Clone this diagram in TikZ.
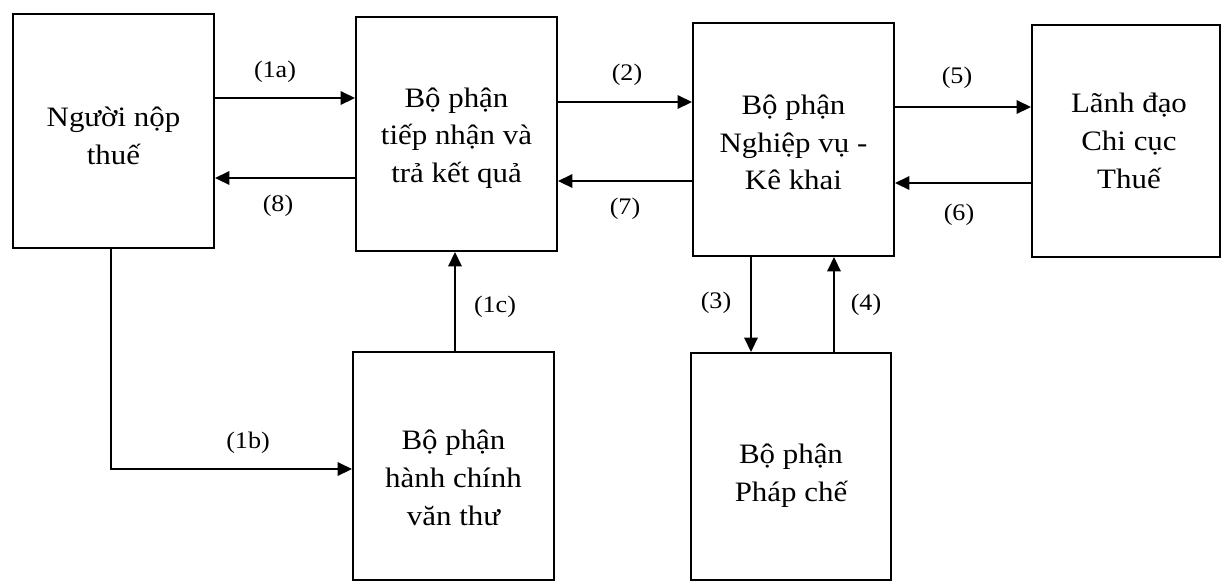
\documentclass[tikz,border=0pt]{standalone}
\usepackage{fontspec}
\setmainfont{Liberation Serif}[FakeStretch=1.1]
\usetikzlibrary{arrows.meta}
\begin{document}
\begin{tikzpicture}[x=0.02cm,y=-0.02cm,
  box/.style={draw,line width=1.15pt,inner sep=0pt},
  txt/.style={inner sep=0pt,align=center,font=\fontsize{16}{21.5}\selectfont},
  arr/.style={line width=1.15pt,-{Triangle[length=0.29cm,width=0.27cm]}},
  lbl/.style={inner sep=1pt,font=\fontsize{13.5}{15}\selectfont}]
\useasboundingbox (0,0) rectangle (1225,583);

% department frames
\node[box,minimum width=4.02cm,minimum height=4.68cm] (p1) at (113.5,131) {};
\node[box,minimum width=4.02cm,minimum height=4.68cm] (p2) at (456.5,134) {};
\node[box,minimum width=4.02cm,minimum height=4.66cm] (p3) at (793.5,139.5) {};
\node[box,minimum width=3.76cm,minimum height=4.64cm] (p4) at (1126,141) {};
\node[box,minimum width=4.02cm,minimum height=4.56cm] (p5) at (453.5,466) {};
\node[box,minimum width=4.00cm,minimum height=4.54cm] (p6) at (791,466.5) {};

% department names
\node[txt,yshift=-0.10cm] (t1) at (p1) {Người nộp\\thuế};
\node[txt,yshift=-0.08cm] (t2) at (p2) {Bộ phận\\tiếp nhận và\\trả kết quả};
\node[txt,yshift=-0.06cm] (t3) at (p3) {Bộ phận\\Nghiệp vụ -\\Kê khai};
\node[txt,xshift=0.06cm] (t4) at (p4) {Lãnh đạo\\Chi cục\\Thuế};
\node[txt,yshift=-0.24cm] (t5) at (p5) {Bộ phận\\hành chính\\văn thư};
\node[txt,yshift=-0.18cm] (t6) at (p6) {Bộ phận\\Pháp chế};

% flows between departments
\draw[arr] (p1.east |- 0,98) -- (p2.west |- 0,98);
\draw[arr] (p2.west |- 0,178) -- (p1.east |- 0,178);
\draw[arr] (p2.east |- 0,102) -- (p3.west |- 0,102);
\draw[arr] (p3.west |- 0,181) -- (p2.east |- 0,181);
\draw[arr] (p3.east |- 0,107) -- (p4.west |- 0,107);
\draw[arr] (p4.west |- 0,183) -- (p3.east |- 0,183);
\draw[arr] (p3.south -| 751,0) -- (p6.north -| 751,0);
\draw[arr] (p6.north -| 834,0) -- (p3.south -| 834,0);
\draw[arr] (p5.north -| 455,0) -- (p2.south -| 455,0);
\draw[arr] (p1.south -| 111,0) |- (p5.west |- 0,469);

% step numbers
\node[lbl] (l1a) at (275,72) {(1a)};
\node[lbl] (l8) at (278,206) {(8)};
\node[lbl] (l2) at (627,75) {(2)};
\node[lbl] (l7) at (625,209) {(7)};
\node[lbl] (l5) at (957,78) {(5)};
\node[lbl] (l6) at (959,215) {(6)};
\node[lbl] (l3) at (716,303) {(3)};
\node[lbl] (l4) at (866,305) {(4)};
\node[lbl] (l1c) at (495,307) {(1c)};
\node[lbl] (l1b) at (248,443) {(1b)};
\end{tikzpicture}
\end{document}
